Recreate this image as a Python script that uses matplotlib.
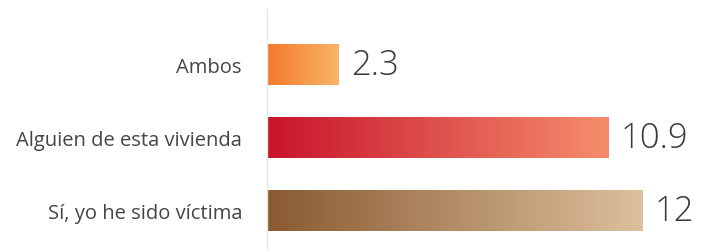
import matplotlib
matplotlib.use("Agg")
import matplotlib.pyplot as plt
from matplotlib.colors import LinearSegmentedColormap
import numpy as np

# Data
categories = ["Sí, yo he sido víctima", "Alguien de esta vivienda", "Ambos"]
values = [12, 10.9, 2.3]
value_labels = ["12", "10.9", "2.3"]

# gradient colours (left, right) for each bar
grad_colors = [("#8a5a32", "#dcc09c"), ("#c8152c", "#f68c6c"), ("#f47a2a", "#fab468")]

fig = plt.figure(figsize=(7.01, 2.53), dpi=100)
ax = fig.add_axes([267 / 701, 3 / 253, 434 / 701, 240 / 253])

y = np.arange(len(categories))
bars = ax.barh(y, values, height=0.56, color="none", edgecolor="none")

# fill each bar with a horizontal gradient
for bar, (c1, c2) in zip(bars, grad_colors):
    x0, y0 = bar.get_x(), bar.get_y()
    w, h = bar.get_width(), bar.get_height()
    cmap = LinearSegmentedColormap.from_list("g", [c1, c2])
    grad = np.linspace(0, 1, 256).reshape(1, -1)
    im = ax.imshow(grad, extent=[x0, x0 + w, y0, y0 + h], aspect="auto",
                   cmap=cmap, zorder=2)
    im.set_clip_path(bar)

for yi, v, lab in zip(y, values, value_labels):
    ax.text(v + 0.4, yi, lab, va="center", ha="left", fontsize=25,
            color="#3a3a3a", family="Open Sans", fontweight="light")

ax.set_xlim(0, 434 / 31.3)
ax.set_ylim(-0.527, 2.76)
ax.set_yticks(y)
ax.set_yticklabels(categories, fontsize=14.5, color="#454545", family="Open Sans")
ax.tick_params(axis="y", length=0, pad=18)
ax.set_xticks([])
for s in ["top", "right", "bottom"]:
    ax.spines[s].set_visible(False)
ax.spines["left"].set_color("#e6e6e6")
ax.spines["left"].set_linewidth(1)

fig.savefig("out.png", dpi=100)
